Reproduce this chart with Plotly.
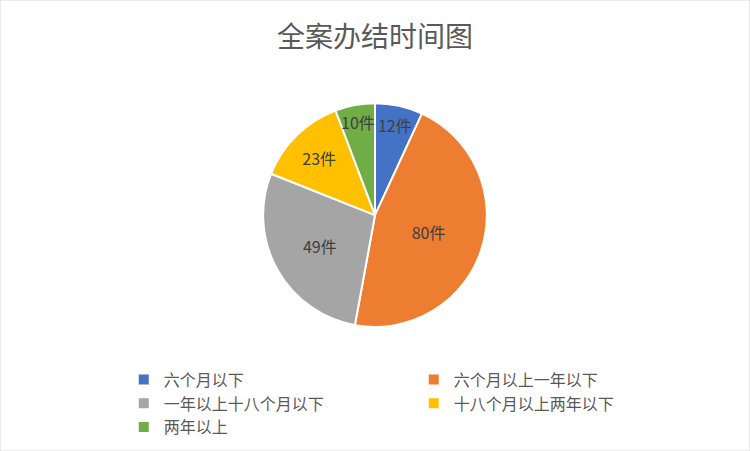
import plotly.graph_objects as go

labels = ['六个月以下', '六个月以上一年以下', '一年以上十八个月以下', '十八个月以上两年以下', '两年以上']
values = [12, 80, 49, 23, 10]
colors = ['#4472C4', '#ED7D31', '#A5A5A5', '#FFC000', '#70AD47']
text_labels = [str(v) + '件' for v in values]

font_name = 'Noto Sans CJK SC'

fig = go.Figure(data=[go.Pie(
    labels=labels, values=values, text=text_labels,
    textinfo='text', textposition='inside', insidetextorientation='horizontal',
    sort=False, direction='clockwise', rotation=0,
    marker=dict(colors=colors, line=dict(color='white', width=2)),
    textfont=dict(color='#404040', size=16, family=font_name),
    domain=dict(x=[0, 1], y=[0.275, 0.771]),
)])

fig.update_layout(
    width=750, height=451,
    margin=dict(l=0, r=0, t=0, b=0, autoexpand=False),
    paper_bgcolor='white', plot_bgcolor='white',
    font=dict(family=font_name, color='#595959'),
    uniformtext=dict(minsize=16, mode='show'),
    title=dict(text='全案办结时间图', x=0.5, xanchor='center', y=0.918, yanchor='middle',
               font=dict(size=28, color='#595959', family=font_name)),
    showlegend=True,
    legend=dict(orientation='h', x=0.165, xanchor='left', y=0.196, yanchor='top',
                entrywidth=245, entrywidthmode='pixels', traceorder='normal',
                bgcolor='rgba(0,0,0,0)',
                font=dict(size=16, color='#595959', family=font_name),
                itemwidth=30, tracegroupgap=0),
    # thin grey frame round the chart area
    shapes=[dict(type='rect', xref='paper', yref='paper', x0=0, y0=0, x1=1, y1=1,
                 line=dict(color='#D9D9D9', width=1))],
)

fig.write_html("out.html", config={'displayModeBar': False},
               post_script="document.body.style.margin='0';")
